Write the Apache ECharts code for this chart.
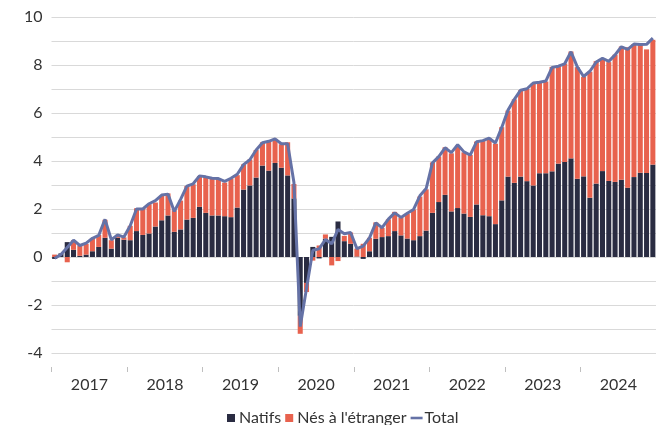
<!DOCTYPE html>
<html>
<head>
<meta charset="utf-8">
<script src="https://cdn.jsdelivr.net/npm/echarts@6/dist/echarts.min.js"></script>
<style>
  html, body { margin: 0; padding: 0; background: #fff; }
  #chart { width: 656px; height: 425px; }
</style>
</head>
<body>
<div id="chart"></div>
<script>
// années affichées sur l'axe
var years = ['2017', '2018', '2019', '2020', '2021', '2022', '2023', '2024'];

// une catégorie par mois
var months = [];
years.forEach(function (y) {
  for (var m = 1; m <= 12; m++) months.push(y + '-' + (m < 10 ? '0' + m : m));
});

var natifs = [
  -0.08, 0.15, 0.62, 0.30, 0.05, 0.10, 0.24, 0.42, 0.80, 0.35, 0.80, 0.72,
  0.70, 1.08, 0.92, 0.98, 1.27, 1.53, 1.73, 1.05, 1.15, 1.56, 1.63, 2.09,
  1.84, 1.73, 1.73, 1.70, 1.66, 2.06, 2.81, 2.98, 3.31, 3.81, 3.60, 3.92,
  3.72, 3.40, 2.44, -2.45, -1.08, 0.42, -0.06, 0.76, 0.84, 1.48, 0.66, 0.55,
  0.02, -0.08, 0.24, 0.76, 0.83, 0.87, 1.08, 0.90, 0.77, 0.70, 0.87, 1.10,
  1.84, 2.29, 2.59, 1.90, 2.04, 1.81, 1.67, 2.19, 1.74, 1.70, 1.37, 2.36,
  3.35, 3.09, 3.35, 3.16, 2.98, 3.49, 3.49, 3.57, 3.89, 3.96, 4.11, 3.26,
  3.36, 2.47, 3.06, 3.58, 3.17, 3.13, 3.22, 2.89, 3.33, 3.51, 3.50, 3.85
];

var etrangers = [
  0.10, 0.00, -0.22, 0.40, 0.43, 0.45, 0.54, 0.50, 0.75, 0.35, 0.12, 0.10,
  0.60, 0.95, 1.10, 1.22, 1.00, 1.02, 0.92, 0.90, 1.20, 1.40, 1.40, 1.28,
  1.50, 1.58, 1.55, 1.40, 1.60, 1.35, 1.05, 1.08, 1.15, 0.97, 1.20, 1.00,
  0.98, 1.38, 0.60, -0.75, -0.38, -0.15, 0.48, 0.18, -0.35, -0.17, 0.22, 0.47,
  0.33, 0.55, 0.56, 0.68, 0.38, 0.70, 0.80, 0.75, 1.03, 1.28, 1.65, 1.72,
  2.10, 1.90, 1.98, 2.42, 2.60, 2.55, 2.58, 2.62, 3.10, 3.25, 3.35, 3.05,
  2.75, 3.48, 3.60, 3.85, 4.25, 3.78, 3.82, 4.35, 4.05, 4.10, 4.45, 4.65,
  4.15, 5.25, 5.10, 4.70, 4.95, 5.30, 5.55, 5.85, 5.55, 5.32, 5.15, 5.20
];

var total = [
  -0.05, 0.10, 0.40, 0.70, 0.48, 0.58, 0.78, 0.90, 1.57, 0.72, 0.92, 0.83,
  1.30, 2.00, 2.00, 2.22, 2.35, 2.58, 2.62, 1.90, 2.40, 2.95, 3.05, 3.38,
  3.34, 3.28, 3.27, 3.15, 3.28, 3.45, 3.85, 4.05, 4.46, 4.76, 4.82, 4.92,
  4.72, 4.72, 3.10, -2.90, -1.30, 0.28, 0.34, 0.73, 0.55, 1.15, 0.97, 1.02,
  0.35, 0.45, 0.80, 1.42, 1.22, 1.58, 1.84, 1.65, 1.82, 1.98, 2.55, 2.85,
  3.92, 4.18, 4.55, 4.35, 4.68, 4.38, 4.25, 4.80, 4.85, 4.95, 4.75, 5.40,
  6.12, 6.57, 6.95, 7.01, 7.25, 7.28, 7.33, 7.90, 7.95, 8.05, 8.55, 7.92,
  7.52, 7.74, 8.12, 8.28, 8.15, 8.42, 8.76, 8.65, 8.87, 8.85, 8.86, 9.12
];

var police = 'Lato, "Noto Sans", sans-serif';
var carre = 'path://M0,0H8V8H0Z';
var trait = 'path://M0,0H14V3H0Z';

var chart = echarts.init(document.getElementById('chart'));

chart.setOption({
  animation: false,
  textStyle: { fontFamily: police },
  grid: { left: 51.5, right: 0, top: 17, bottom: 72 },
  legend: {
    top: 405,
    left: 222,
    itemWidth: 12,
    itemHeight: 8,
    itemGap: 4,
    textStyle: { fontSize: 16, color: '#333', fontFamily: police, padding: [0, 0, 0, -3] },
    data: [
      { name: 'Natifs', icon: carre },
      { name: 'Nés à l\'étranger', icon: carre },
      { name: 'Total', icon: trait, itemStyle: { color: '#6572a6', borderWidth: 0 } }
    ]
  },
  xAxis: {
    type: 'category',
    data: months,
    boundaryGap: true,
    offset: 14,
    axisLine: { show: false, onZero: false },
    axisTick: {
      show: true,
      length: 5,
      interval: function (i) { return i % 12 === 0; },
      lineStyle: { color: '#bfbfbf' }
    },
    axisLabel: {
      interval: function (i) { return i % 12 === 6; },
      formatter: function (v) { return v.slice(0, 4); },
      fontSize: 16,
      color: '#333',
      margin: 10,
      padding: [0, 6, 0, 0]
    }
  },
  yAxis: {
    type: 'value',
    min: -4,
    max: 10,
    interval: 1,
    axisLine: { show: false },
    axisTick: { show: false },
    splitLine: { lineStyle: { color: '#d9d9d9', width: 1 } },
    axisLabel: {
      fontSize: 16,
      color: '#333',
      margin: 9,
      formatter: function (v) { return v % 2 === 0 ? String(v) : ''; }
    }
  },
  series: [
    {
      name: 'Natifs',
      type: 'bar',
      stack: 'emploi',
      data: natifs,
      barCategoryGap: '20%',
      itemStyle: { color: '#2a2c42' }
    },
    {
      name: 'Nés à l\'étranger',
      type: 'bar',
      stack: 'emploi',
      data: etrangers,
      itemStyle: { color: '#e8624e' }
    },
    {
      name: 'Total',
      type: 'line',
      data: total,
      symbol: 'none',
      z: 5,
      lineStyle: { color: '#6572a6', width: 3 },
      itemStyle: { color: '#6572a6' }
    }
  ]
});
</script>
</body>
</html>
